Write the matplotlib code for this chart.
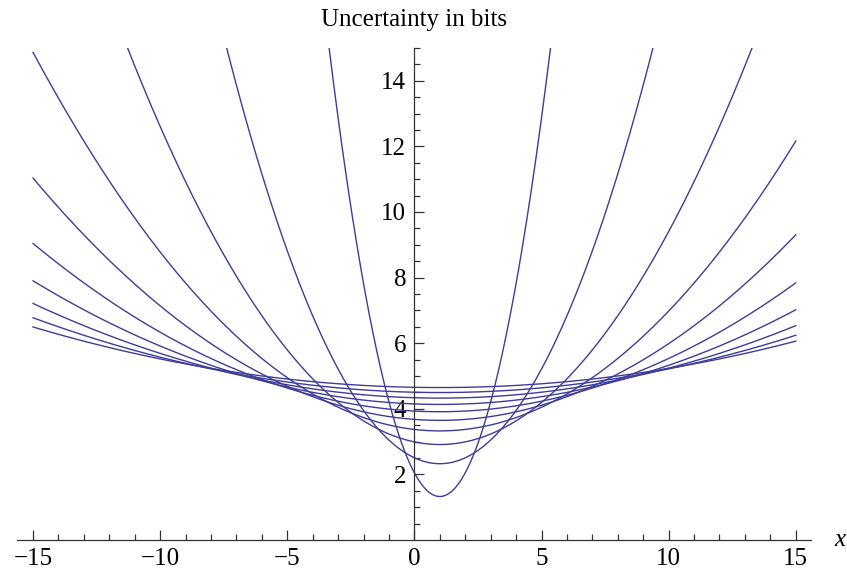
import matplotlib.pyplot as plt
import numpy as np

# surprisal of a Gaussian, -log2 N(x; mu, sigma), one curve per sigma
mu = 1.0
sigmas = [1, 2, 3, 4, 5, 6, 7, 8, 9, 10]
x_range = (-15, 15)
xticks_major = [-15, -10, -5, 0, 5, 10, 15]
yticks_major = [2, 4, 6, 8, 10, 12, 14]
title = 'Uncertainty in bits'
xlabel = 'x'

plt.rcParams['font.family'] = ['Liberation Serif', 'DejaVu Serif']
plt.rcParams['axes.unicode_minus'] = True

fig = plt.figure(figsize=(8.47, 5.77), dpi=100)
ax = fig.add_axes([16.5 / 847, 37 / 577, (811 - 16.5) / 847, 492 / 577])

x = np.linspace(x_range[0], x_range[1], 800)
for s in sigmas:
  y = np.log2(s * np.sqrt(2 * np.pi)) + (x - mu) ** 2 / (2 * s ** 2 * np.log(2))
  ax.plot(x, y, color='#3d3d99', lw=1.0)

ax.set_xlim(-15.65, 15.6)
ax.set_ylim(0, 15)

for side in ['top', 'right']:
  ax.spines[side].set_visible(False)
ax.spines['left'].set_position(('data', 0))
ax.spines['bottom'].set_position(('data', 0))
for side in ['left', 'bottom']:
  ax.spines[side].set_linewidth(0.9)
  ax.spines[side].set_color('#333333')

ax.set_xticks(xticks_major)
ax.set_xticks(np.arange(-15, 16, 1), minor=True)
ax.set_yticks(yticks_major)
ax.set_yticks(np.arange(0.5, 15.01, 0.5), minor=True)
ax.tick_params(which='both', direction='in', color='#333333', width=0.9)
ax.tick_params(which='major', length=7, labelsize=18, pad=6)
ax.tick_params(which='minor', length=4)

fig.text(414 / 847, 1 - 20 / 577, title, ha='center', va='center', fontsize=18)
fig.text(840 / 847, 1 - 540 / 577, xlabel, ha='center', va='center',
         fontsize=18, style='italic')

plt.savefig('out.png', dpi=100)
